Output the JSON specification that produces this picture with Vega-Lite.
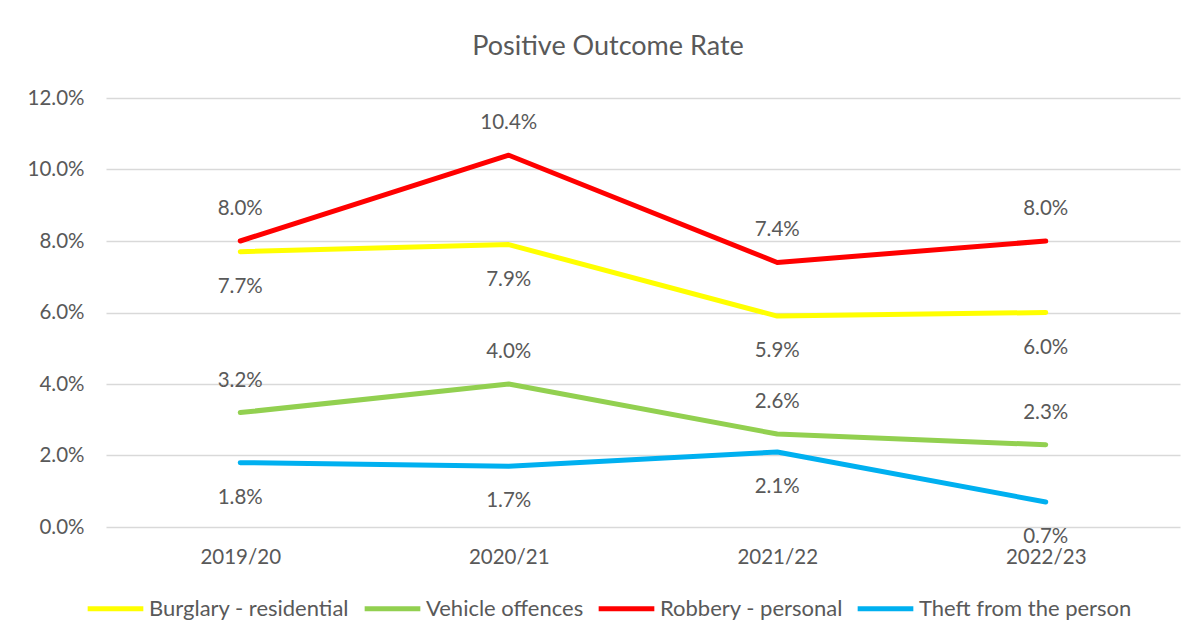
{
  "$schema": "https://vega.github.io/schema/vega-lite/v6.json",
  "autosize": {"type": "none"},
  "width": 1074,
  "height": 429,
  "padding": {"left": 106, "top": 98, "right": 23, "bottom": 115},
  "background": "white",
  "title": {"text": "Positive Outcome Rate", "font": "Lato", "fontSize": 27, "fontWeight": "normal", "color": "#595959", "anchor": "middle", "dx": -35, "offset": 27},
  "config": {
    "view": {"stroke": null},
    "font": "Lato",
    "axis": {"labelFont": "Lato", "labelColor": "#595959", "labelFontSize": 20.5, "domain": false, "ticks": false, "title": null}
  },
  "data": {"values": [
    {"year": "2019/20", "series": "Burglary - residential", "rate": 0.077},
    {"year": "2020/21", "series": "Burglary - residential", "rate": 0.079},
    {"year": "2021/22", "series": "Burglary - residential", "rate": 0.059},
    {"year": "2022/23", "series": "Burglary - residential", "rate": 0.060},
    {"year": "2019/20", "series": "Vehicle offences", "rate": 0.032},
    {"year": "2020/21", "series": "Vehicle offences", "rate": 0.040},
    {"year": "2021/22", "series": "Vehicle offences", "rate": 0.026},
    {"year": "2022/23", "series": "Vehicle offences", "rate": 0.023},
    {"year": "2019/20", "series": "Robbery - personal", "rate": 0.080},
    {"year": "2020/21", "series": "Robbery - personal", "rate": 0.104},
    {"year": "2021/22", "series": "Robbery - personal", "rate": 0.074},
    {"year": "2022/23", "series": "Robbery - personal", "rate": 0.080},
    {"year": "2019/20", "series": "Theft from the person", "rate": 0.018},
    {"year": "2020/21", "series": "Theft from the person", "rate": 0.017},
    {"year": "2021/22", "series": "Theft from the person", "rate": 0.021},
    {"year": "2022/23", "series": "Theft from the person", "rate": 0.007}
  ]},
  "encoding": {
    "x": {"field": "year", "type": "ordinal", "scale": {"paddingInner": 0, "paddingOuter": 0.5}, "axis": {"labelAngle": 0, "labelPadding": 20, "grid": false}},
    "y": {"field": "rate", "type": "quantitative", "scale": {"domain": [0, 0.12], "nice": false, "zero": true}, "axis": {"format": ".1%", "values": [0, 0.02, 0.04, 0.06, 0.08, 0.10, 0.12], "grid": true, "gridColor": "#D9D9D9", "gridWidth": 1.5, "labelPadding": 22}}
  },
  "layer": [
    {
      "mark": {"type": "line", "strokeWidth": 5, "strokeCap": "round", "strokeJoin": "round"},
      "encoding": {
        "color": {"field": "series", "type": "nominal",
          "scale": {"domain": ["Burglary - residential", "Vehicle offences", "Robbery - personal", "Theft from the person"], "range": ["#FFFF00", "#92D050", "#FF0000", "#00B0F0"]},
          "legend": {"title": null, "orient": "none", "legendX": -21, "legendY": 480, "direction": "horizontal", "columns": 4, "columnPadding": 4,
            "symbolType": "stroke", "symbolSize": 3100, "symbolStrokeWidth": 5, "labelFont": "Lato", "labelFontSize": 22, "labelColor": "#595959", "labelOffset": 3, "labelLimit": 400}
        }
      }
    },
    {
      "transform": [{"filter": "datum.series === 'Vehicle offences' || datum.series === 'Robbery - personal'"}],
      "mark": {"type": "text", "dy": -32, "baseline": "middle", "fontSize": 20.5, "font": "Lato", "color": "#595959"},
      "encoding": {"text": {"field": "rate", "type": "quantitative", "format": ".1%"}}
    },
    {
      "transform": [{"filter": "datum.series === 'Burglary - residential' || datum.series === 'Theft from the person'"}],
      "mark": {"type": "text", "dy": 35, "baseline": "middle", "fontSize": 20.5, "font": "Lato", "color": "#595959"},
      "encoding": {"text": {"field": "rate", "type": "quantitative", "format": ".1%"}}
    }
  ]
}
